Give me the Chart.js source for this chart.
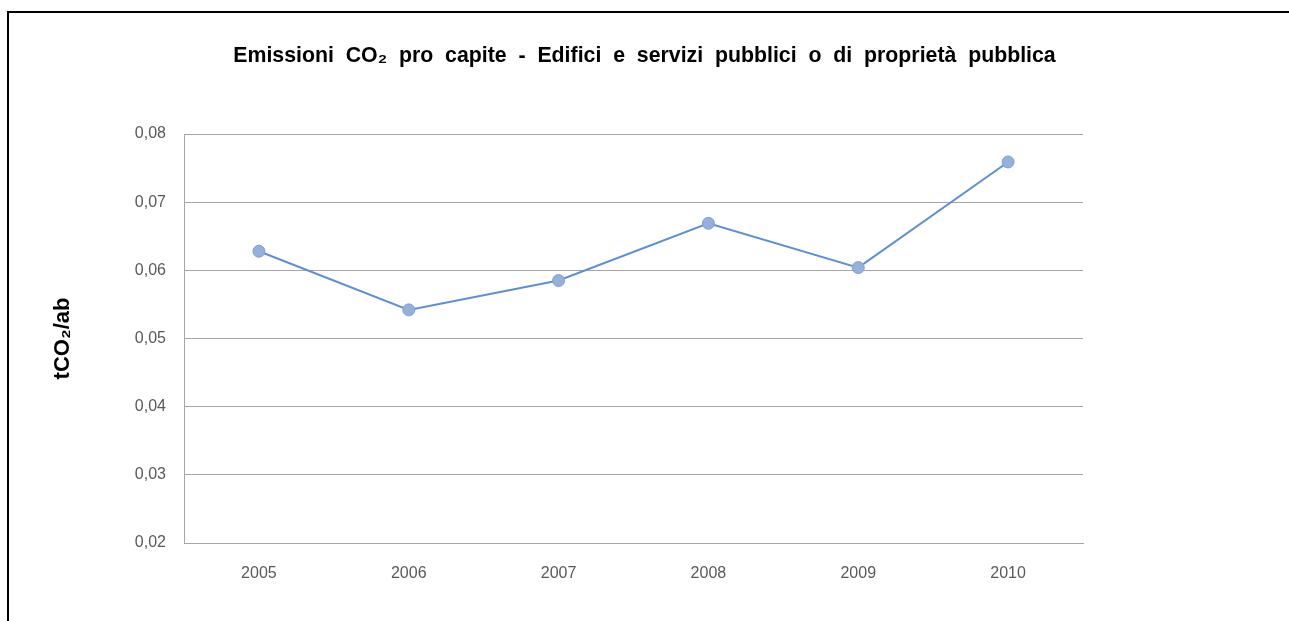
<!DOCTYPE html>
<html>
<head>
  <meta name="viewport" content="width=device-width, initial-scale=1.0">
  <title>Emissioni CO2 pro capite</title>
  <script src="https://cdn.jsdelivr.net/npm/chart.js"></script>
  <style>
    body {
      margin: 0;
      padding: 0;
      background: #fff;
      overflow: hidden;
    }
    #frame {
      position: absolute;
      left: 7px;
      top: 11px;
      width: 1400px;
      height: 700px;
      border: 2px solid #000;
    }
    #wrap {
      position: absolute;
      left: 0;
      top: 0;
      width: 1289px;
      height: 621px;
    }
  </style>
</head>
<body>
  <div id="frame"></div>
  <div id="wrap"><canvas id="myChart"></canvas></div>

  <script>
    // dati
    const anni = ['2005', '2006', '2007', '2008', '2009', '2010'];
    const emissioni = [0.0628, 0.0542, 0.0585, 0.0669, 0.0604, 0.0759];
    const yMin = 0.02;
    const yMax = 0.08;
    const yStep = 0.01;

    const titolo = 'Emissioni  CO\u2082  pro  capite  -  Edifici  e  servizi  pubblici  o  di  propriet\u00e0  pubblica';
    const titoloAsse = 'tCO\u2082/ab';

    Chart.defaults.font.family = '"Liberation Sans", Arial, sans-serif';

    // titolo centrato su tutta la larghezza della pagina
    const titoloPlugin = {
      id: 'titoloCentrato',
      afterDraw: (c) => {
        const g = c.ctx;
        g.save();
        g.fillStyle = '#000';
        g.font = 'bold 21.3px "Liberation Sans", Arial, sans-serif';
        g.textAlign = 'center';
        g.textBaseline = 'middle';
        g.fillText(titolo, c.width / 2, 56);
        g.restore();
      }
    };

    const ctx = document.getElementById('myChart').getContext('2d');
    const chart = new Chart(ctx, {
      type: 'line',
      data: {
        labels: anni,
        datasets: [{
          label: titoloAsse,
          data: emissioni,
          borderColor: '#5E8FD3',
          borderWidth: 2,
          pointRadius: 6,
          pointBackgroundColor: '#93B1DA',
          pointBorderColor: '#7F9FCF',
          pointBorderWidth: 1,
          tension: 0
        }]
      },
      options: {
        responsive: true,
        maintainAspectRatio: false,
        animation: false,
        layout: {
          padding: { left: 50, right: 206, top: 134, bottom: 0 }
        },
        plugins: {
          legend: { display: false },
          tooltip: { enabled: false },
          title: { display: false }
        },
        scales: {
          x: {
            offset: true,
            grid: { display: false, drawTicks: false },
            border: { color: '#A6A6A6', width: 1 },
            ticks: { color: '#595959', font: { size: 16 }, padding: 21 },
            afterFit: (s) => { s.height = 78; }
          },
          y: {
            min: yMin,
            max: yMax,
            grid: { color: '#A6A6A6', drawTicks: false },
            border: { color: '#A6A6A6', width: 1 },
            ticks: {
              stepSize: yStep,
              color: '#595959',
              font: { size: 16 },
              padding: 18,
              callback: (v) => v.toFixed(2).replace('.', ',')
            },
            title: {
              display: true,
              text: titoloAsse,
              color: '#000',
              font: { size: 22, weight: 'bold' },
              padding: { top: 0, bottom: 0 }
            },
            afterFit: (s) => { s.width = 134; }
          }
        }
      },
      plugins: [titoloPlugin]
    });
  </script>
</body>
</html>
